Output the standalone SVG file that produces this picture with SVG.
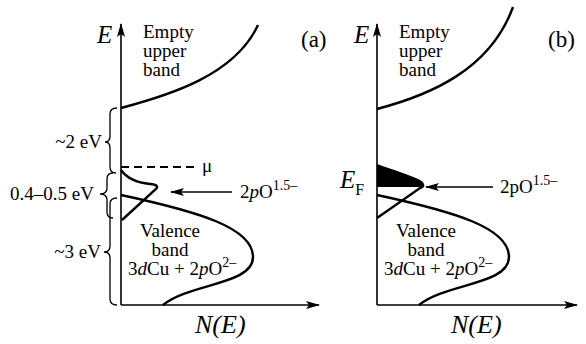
<svg xmlns="http://www.w3.org/2000/svg" width="586" height="344" viewBox="0 0 586 344" font-family="'Liberation Serif','Times New Roman','DejaVu Serif',serif">
<defs>
<marker id="ah" viewBox="0 0 14 8" refX="13" refY="4" markerWidth="14" markerHeight="8" markerUnits="userSpaceOnUse" orient="auto">
<path d="M0,0 L14,4 L0,8 L3,4 Z" fill="#000"/>
</marker>
<style>
.ax{stroke:#000;stroke-width:1.6;fill:none}
.cv{stroke:#000;stroke-width:2.4;fill:none}
.br{stroke:#000;stroke-width:1.3;fill:none}
text{font-family:'Liberation Serif','Times New Roman','DejaVu Serif',serif}
.t{font-size:19px;fill:#000}
.big{font-size:25px;fill:#000;font-style:italic}
.ne{font-size:26px;fill:#000;font-style:italic}
.lab{font-size:23px;fill:#000}
.sup{font-size:14px}
</style>
</defs>
<g id="connectors">
<line class="ax" x1="121" y1="305" x2="121" y2="24" marker-end="url(#ah)"/>
<line class="ax" x1="121" y1="305" x2="319" y2="305" marker-end="url(#ah)"/>
<line class="ax" x1="377" y1="305" x2="377" y2="24" marker-end="url(#ah)"/>
<line class="ax" x1="377" y1="305" x2="577" y2="305" marker-end="url(#ah)"/>
<line class="ax" x1="232" y1="192" x2="171" y2="192" marker-end="url(#ah)"/>
<line class="ax" x1="493" y1="187" x2="426" y2="187" marker-end="url(#ah)"/>
</g>
<g id="panel-a">
<text class="big" x="97" y="43">E</text>
<text class="lab" x="301" y="47">(a)</text>
<g id="upper-band-a">
<path class="cv" d="M121,108 C170,95 235,75 258,25"/>
<text class="t" x="143" y="38">Empty</text>
<text class="t" x="143" y="57">upper</text>
<text class="t" x="143" y="76">band</text>
</g>
<g id="mu-a">
<line x1="121" y1="167" x2="197" y2="167" stroke="#000" stroke-width="2" stroke-dasharray="8,5"/>
<text class="t" x="202" y="172">μ</text>
</g>
<g id="narrow-band-a">
<path class="cv" d="M121,170 C128,180 140,183 150,184 Q160,185 156,189 L122,220"/>
<text class="t" x="240" y="198">2<tspan font-style="italic">p</tspan>O<tspan class="sup" dy="-8">1.5–</tspan></text>
</g>
<g id="valence-a">
<path class="cv" d="M121,195 C200,212 253,228 253,257 C253,285 190,283 163,305"/>
<text class="t" x="170" y="237" text-anchor="middle">Valence</text>
<text class="t" x="170" y="256" text-anchor="middle">band</text>
<text class="t" x="128" y="275">3<tspan font-style="italic">d</tspan>Cu + 2<tspan font-style="italic">p</tspan>O<tspan class="sup" dy="-8">2–</tspan></text>
</g>
<g id="braces">
<path class="br" d="M117,108 Q110,108 110,114 L110,136 Q110,142 105,142 Q110,142 110,148 L110,167 Q110,173 116,173"/>
<path class="br" d="M113,173 Q107,173 107,179 L107,188 Q107,194 100,194 Q107,194 107,200 L107,212 Q107,218 113,218"/>
<path class="br" d="M117,198 Q110,198 110,204 L110,246 Q110,252 104,252 Q110,252 110,258 L110,299 Q110,305 117,305"/>
<text class="t" x="102" y="148" text-anchor="end">~2 eV</text>
<text class="t" x="94" y="200" text-anchor="end">0.4–0.5 eV</text>
<text class="t" x="101" y="258" text-anchor="end">~3 eV</text>
</g>
<text class="ne" x="195" y="333">N(E)</text>
</g>
<g id="panel-b">
<text class="big" x="354" y="43">E</text>
<text class="lab" x="548" y="47">(b)</text>
<g id="upper-band-b">
<path class="cv" d="M377,109 C430,95 490,70 513,7"/>
<text class="t" x="399" y="38">Empty</text>
<text class="t" x="399" y="57">upper</text>
<text class="t" x="399" y="76">band</text>
</g>
<g id="fermi-b">
<path d="M377,165 C395,172 413,177 421,182 Q426,186 420,187 L377,187 Z" fill="#000"/>
<path class="cv" d="M377,165 C395,172 413,177 421,182 Q426,186 420,188 L377,218"/>
<text class="big" x="340" y="188">E<tspan font-style="normal" font-size="16px" dy="7">F</tspan></text>
<text class="t" x="500" y="193">2pO<tspan class="sup" dy="-8">1.5–</tspan></text>
</g>
<g id="valence-b">
<path class="cv" d="M377,195 C456,212 509,228 509,257 C509,285 446,283 419,305"/>
<text class="t" x="426" y="237" text-anchor="middle">Valence</text>
<text class="t" x="426" y="256" text-anchor="middle">band</text>
<text class="t" x="384" y="275">3<tspan font-style="italic">d</tspan>Cu + 2<tspan font-style="italic">p</tspan>O<tspan class="sup" dy="-8">2–</tspan></text>
</g>
<text class="ne" x="451" y="333">N(E)</text>
</g>
</svg>
